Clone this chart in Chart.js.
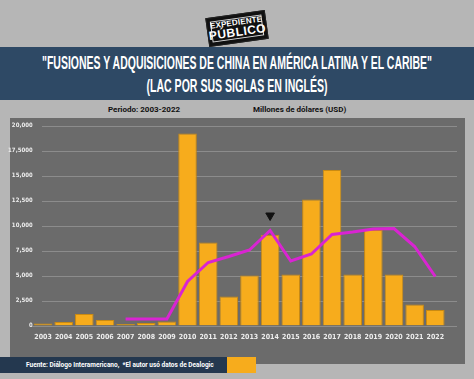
<!DOCTYPE html>
<html>
<head>
<meta charset="utf-8">
<script src="https://cdn.jsdelivr.net/npm/chart.js@4.4.1/dist/chart.umd.min.js"></script>
<style>
    body { margin: 0; width: 474px; height: 379px; background: #b6b6b6; overflow: hidden; position: relative; font-family: Roboto, "DejaVu Sans", sans-serif; }
    #logo { position: absolute; left: 207px; top: 14px; width: 58px; height: 27px; background: #111; transform: rotate(-8deg); border: 1px solid #222; }
    #logo .frame { position: absolute; left: 3px; top: 3px; right: 3px; bottom: 3px; border: 1px solid #ddd; }
    #logo .l1 { position: absolute; left: 0; right: 0; top: 3px; text-align: center; color: #fff; font: bold 8px "Liberation Sans Narrow", sans-serif; letter-spacing: 0.2px; }
    #logo .l2 { position: absolute; left: 0; right: 0; top: 10px; text-align: center; color: #fff; font: bold 12px "Liberation Sans Narrow", sans-serif; letter-spacing: 0.5px; }
    #band { position: absolute; left: 0; top: 47px; width: 474px; height: 53px; background: #2e4965; }
    .title { position: absolute; left: 237px; color: #fff; font: bold 18px "Liberation Sans Narrow", sans-serif; white-space: nowrap; transform-origin: 0 50%; }
    .sub { position: absolute; top: 105px; font: bold 8px Roboto, sans-serif; color: #111; white-space: nowrap; }
    #panel { position: absolute; left: 10px; top: 118px; width: 455px; height: 246px; background: #6b6b6b; }
    #wrap { position: absolute; left: 0; top: 118px; width: 474px; height: 246px; }
    #footer { position: absolute; left: 0; top: 357px; width: 227px; height: 16px; background: #24384f; }
    #footer span { position: absolute; left: 26px; top: 4px; color: #fff; font: bold 6.5px Roboto, sans-serif; white-space: nowrap; }
    #orange { position: absolute; left: 227px; top: 357px; width: 29px; height: 16px; background: #f7ac1c; }
</style>
</head>
<body>
<div id="logo"><div class="frame"></div><div class="l1">EXPEDIENTE</div><div class="l2">PÚBLICO</div></div>
<div id="band"></div>
<div class="title" id="t1" style="top:53px">"FUSIONES Y ADQUISICIONES DE CHINA EN AMÉRICA LATINA Y EL CARIBE"</div>
<div class="title" id="t2" style="top:76px">(LAC POR SUS SIGLAS EN INGLÉS)</div>
<div class="sub" style="left:108px">Periodo: 2003-2022</div>
<div class="sub" style="left:253px">Millones de dólares (USD)</div>
<div id="panel"></div>
<div id="wrap"><canvas id="chart" width="474" height="246"></canvas></div>
<div id="footer"><span id="src">Fuente: Diálogo Interamericano,&nbsp; *El autor usó datos de Dealogic</span></div>
<div id="orange"></div>
<script>
// data
const years = ['2003', '2004', '2005', '2006', '2007', '2008', '2009', '2010', '2011', '2012',
               '2013', '2014', '2015', '2016', '2017', '2018', '2019', '2020', '2021', '2022'];
const dealValues = [200, 350, 1150, 550, 150, 250, 400, 19200, 8300, 2900,
                    5000, 9050, 5100, 12600, 15550, 5100, 9550, 5100, 2100, 1550];
const trendValues = [null, null, null, null, 650, 650, 650, 4400, 6300, 6900,
                     7550, 9500, 6450, 7150, 9100, 9350, 9650, 9700, 7900, 4900];
const markerValues = [null, null, null, null, null, null, null, null, null, null,
                      null, 11000, null, null, null, null, null, null, null, null];
const yTickLabels = ['0', '2,500', '5,000', '7,500', '10,000', '12,500', '15,000', '17,5000', '20,000'];

// squeeze the title lines to the width they take in the picture, centred at 237
function fitTitle(id, width) {
    const el = document.getElementById(id);
    const w = el.getBoundingClientRect().width;
    const s = width / w;
    el.style.transform = 'translateX(' + (-width / 2) + 'px) scaleX(' + s + ')';
}
fitTitle('t1', 390);
fitTitle('t2', 181);

// source line must end before the orange box
const src = document.getElementById('src');
const srcW = src.getBoundingClientRect().width;
if (srcW > 191) {
    src.style.transformOrigin = '0 50%';
    src.style.transform = 'scaleX(' + (191 / srcW) + ')';
}

// gridlines run a bit past the plot on the right, like the original
const gridPlugin = {
    id: 'grid',
    beforeDatasetsDraw(chart) {
        const ctx = chart.ctx;
        const y = chart.scales.y;
        ctx.save();
        ctx.strokeStyle = '#8c8c8c';
        ctx.lineWidth = 1;
        for (let v = 0; v <= 20000; v += 2500) {
            const py = Math.round(y.getPixelForValue(v)) + 0.5;
            ctx.beginPath();
            ctx.moveTo(v === 0 ? 32 : 42, py);
            ctx.lineTo(457, py);
            ctx.stroke();
        }
        ctx.restore();
    }
};

new Chart(document.getElementById('chart'), {
    data: {
        labels: years,
        datasets: [
            {
                type: 'line',
                data: markerValues,
                showLine: false,
                pointStyle: 'triangle',
                rotation: 180,
                pointRadius: 5,
                backgroundColor: '#111',
                borderColor: '#111',
                order: 0
            },
            {
                type: 'line',
                data: trendValues,
                borderColor: '#d924d2',
                borderWidth: 3,
                pointRadius: 0,
                tension: 0,
                order: 1
            },
            {
                type: 'bar',
                data: dealValues,
                backgroundColor: '#f7ac1c',
                borderColor: '#c98a12',
                borderWidth: 1,
                categoryPercentage: 1,
                barPercentage: 0.9,
                order: 2
            }
        ]
    },
    options: {
        responsive: false,
        animation: false,
        layout: { padding: { top: 7.5, right: 28.4, bottom: 18, left: 0 } },
        plugins: { legend: { display: false }, tooltip: { enabled: false } },
        scales: {
            x: {
                grid: { display: false, drawTicks: false, tickLength: 0 },
                border: { display: false },
                ticks: { color: '#eeeeee', font: { family: 'DejaVu Sans Condensed', size: 7, weight: 'bold' }, padding: 7, maxRotation: 0, autoSkip: false },
                afterFit: (scale) => { scale.height = 20.5; }
            },
            y: {
                min: 0,
                max: 20000,
                grid: { display: false, drawTicks: false, tickLength: 0 },
                border: { display: false },
                ticks: {
                    stepSize: 2500,
                    color: '#eeeeee',
                    font: { family: 'DejaVu Sans Condensed', size: 6, weight: 'bold' },
                    padding: 0,
                    callback: (value) => yTickLabels[value / 2500]
                },
                afterFit: (scale) => { scale.width = 32.7; }
            }
        }
    },
    plugins: [gridPlugin]
});
</script>
</body>
</html>
